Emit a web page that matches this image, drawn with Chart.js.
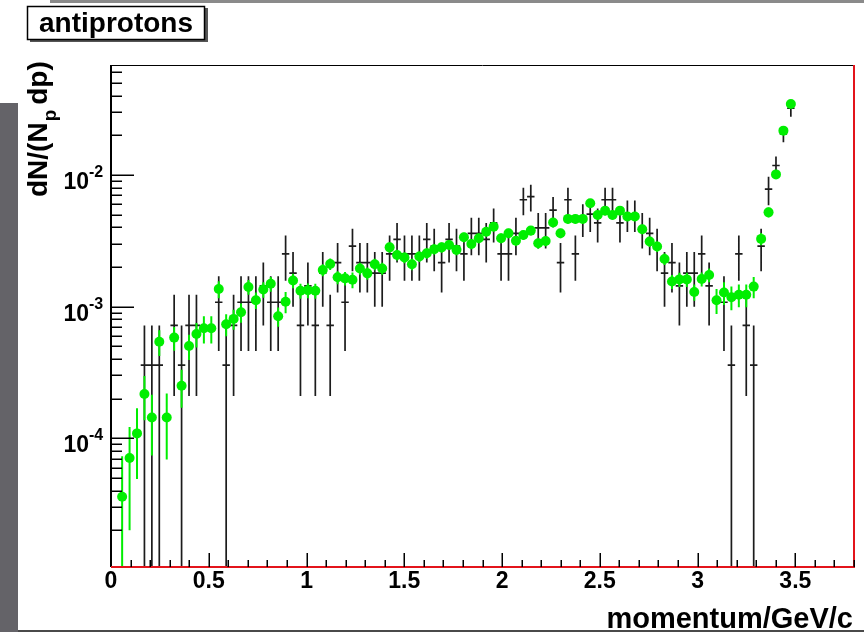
<!DOCTYPE html>
<html><head><meta charset="utf-8">
<script src="https://cdn.jsdelivr.net/npm/chart.js@4.4.0/dist/chart.umd.min.js"></script>
<style>html,body{margin:0;padding:0;background:#fff;overflow:hidden}canvas{display:block}</style>
</head><body>
<canvas id="c" width="864" height="632"></canvas>
<script>
// momentum bin centres (GeV/c), bin width 0.038
const momentum = [0.057,0.095,0.133,0.171,0.209,0.247,0.285,0.323,0.361,0.399,
0.437,0.475,0.513,0.551,0.589,0.627,0.665,0.703,0.741,0.779,
0.817,0.855,0.893,0.931,0.969,1.007,1.045,1.083,1.121,1.159,
1.197,1.235,1.273,1.311,1.349,1.387,1.425,1.463,1.501,1.539,
1.577,1.615,1.653,1.691,1.729,1.767,1.805,1.843,1.881,1.919,
1.957,1.995,2.033,2.071,2.109,2.147,2.185,2.223,2.261,2.299,
2.337,2.375,2.413,2.451,2.489,2.527,2.565,2.603,2.641,2.679,
2.717,2.755,2.793,2.831,2.869,2.907,2.945,2.983,3.021,3.059,
3.097,3.135,3.173,3.211,3.249,3.287,3.325,3.363,3.401,3.439,3.477];
const halfBin = 0.019;

// green series (markers)
const greenVal = [3.6e-5,7.1e-5,1.09e-4,2.17e-4,1.44e-4,5.42e-4,1.44e-4,5.82e-4,2.51e-4,5.03e-4,
6.2e-4,6.86e-4,6.86e-4,1.36e-3,7.35e-4,8.07e-4,9.06e-4,1.41e-3,1.12e-3,1.35e-3,
1.49e-3,8.45e-4,1.09e-3,1.58e-3,1.32e-3,1.33e-3,1.32e-3,1.90e-3,2.11e-3,1.67e-3,
1.64e-3,1.60e-3,1.95e-3,1.79e-3,2.10e-3,1.95e-3,2.82e-3,2.47e-3,2.36e-3,2.10e-3,
2.40e-3,2.54e-3,2.73e-3,2.82e-3,2.94e-3,2.70e-3,3.36e-3,2.99e-3,3.31e-3,3.71e-3,
4.05e-3,3.31e-3,3.61e-3,3.17e-3,3.50e-3,3.78e-3,3.03e-3,3.15e-3,4.35e-3,3.61e-3,
4.64e-3,4.64e-3,4.64e-3,6.10e-3,4.97e-3,5.36e-3,4.97e-3,5.36e-3,4.83e-3,4.83e-3,
3.87e-3,3.12e-3,2.86e-3,2.30e-3,1.55e-3,1.61e-3,1.61e-3,1.29e-3,1.62e-3,1.74e-3,
1.12e-3,1.28e-3,1.18e-3,1.23e-3,1.23e-3,1.42e-3,3.27e-3,5.20e-3,1.01e-2,2.17e-2,3.46e-2];
const greenErr = [3.7e-5,5.1e-5,6.0e-5,8.0e-5,7.0e-5,1.2e-4,7.5e-5,1.2e-4,8.0e-5,1.1e-4,
1.3e-4,1.6e-4,1.6e-4,2.0e-4,1.4e-4,1.4e-4,1.5e-4,1.8e-4,1.6e-4,1.8e-4,
1.9e-4,1.4e-4,2.0e-4,2.0e-4,1.7e-4,1.7e-4,1.7e-4,2.0e-4,2.1e-4,1.9e-4,
1.9e-4,2.2e-4,2.0e-4,1.9e-4,2.1e-4,2.0e-4,2.5e-4,2.3e-4,2.2e-4,2.1e-4,
2.2e-4,2.3e-4,2.4e-4,2.5e-4,2.5e-4,2.4e-4,2.8e-4,2.6e-4,2.8e-4,3.0e-4,
3.2e-4,2.8e-4,3.0e-4,2.7e-4,2.9e-4,3.1e-4,2.6e-4,2.7e-4,3.4e-4,3.0e-4,
3.6e-4,3.6e-4,3.6e-4,4.5e-4,3.8e-4,4.0e-4,3.8e-4,4.0e-4,3.7e-4,3.7e-4,
3.2e-4,2.8e-4,2.6e-4,2.3e-4,1.9e-4,2.0e-4,2.0e-4,1.8e-4,2.0e-4,2.1e-4,
2.4e-4,2.5e-4,2.4e-4,2.4e-4,2.4e-4,2.6e-4,3.5e-4,4.5e-4,7.0e-4,1.1e-3,1.6e-3];

// black series (crosses)
const blackVal = [null,null,null,3.6e-4,3.6e-4,3.6e-4,null,7.2e-4,3.6e-4,7.2e-4,
7.2e-4,null,null,1.08e-3,3.6e-4,7.2e-4,1.08e-3,1.08e-3,1.08e-3,1.44e-3,
1.08e-3,1.08e-3,2.52e-3,1.80e-3,7.2e-4,1.44e-3,7.2e-4,1.80e-3,7.2e-4,2.16e-3,
1.08e-3,2.88e-3,2.16e-3,2.16e-3,1.80e-3,1.80e-3,2.52e-3,3.24e-3,2.52e-3,2.52e-3,
2.52e-3,3.24e-3,2.88e-3,2.16e-3,3.24e-3,2.88e-3,2.52e-3,3.60e-3,3.60e-3,3.24e-3,
4.32e-3,2.52e-3,2.52e-3,3.60e-3,6.48e-3,6.84e-3,3.96e-3,3.96e-3,5.40e-3,2.16e-3,
6.48e-3,2.52e-3,4.68e-3,5.04e-3,4.32e-3,6.48e-3,6.48e-3,4.32e-3,5.04e-3,5.04e-3,
3.96e-3,3.60e-3,2.88e-3,1.80e-3,2.16e-3,1.44e-3,1.80e-3,1.80e-3,2.52e-3,1.44e-3,
null,1.08e-3,3.6e-4,2.52e-3,7.2e-4,3.6e-4,2.88e-3,7.80e-3,1.18e-2,2.05e-2,3.21e-2];
const blackErr = [0,0,0,3.6e-4,3.6e-4,3.6e-4,0,5.1e-4,3.6e-4,5.1e-4,
5.1e-4,0,0,6.2e-4,3.6e-4,5.1e-4,6.2e-4,6.2e-4,6.2e-4,7.2e-4,
6.2e-4,6.2e-4,9.5e-4,8.0e-4,5.1e-4,7.2e-4,5.1e-4,8.0e-4,5.1e-4,8.8e-4,
6.2e-4,1.02e-3,8.8e-4,8.8e-4,8.0e-4,8.0e-4,9.5e-4,1.08e-3,9.5e-4,9.5e-4,
9.5e-4,1.08e-3,1.02e-3,8.8e-4,1.08e-3,1.02e-3,9.5e-4,1.14e-3,1.14e-3,1.08e-3,
1.25e-3,9.5e-4,9.5e-4,1.14e-3,1.53e-3,1.57e-3,1.19e-3,1.19e-3,1.39e-3,8.8e-4,
1.53e-3,9.5e-4,1.30e-3,1.35e-3,1.25e-3,1.53e-3,1.53e-3,1.25e-3,1.35e-3,1.35e-3,
1.19e-3,1.14e-3,1.02e-3,8.0e-4,8.8e-4,7.2e-4,8.0e-4,8.0e-4,9.5e-4,7.2e-4,
0,6.2e-4,3.6e-4,9.5e-4,5.1e-4,3.6e-4,1.02e-3,1.9e-3,2.0e-3,2.8e-3,4.4e-3];

// axes
const xMin = 0, xMax = 3.8, xStep = 0.5;
const yMin = 1.054e-5, yMax = 6.84e-2;
const yMajorTicks = [1e-4, 1e-3, 1e-2];
const yTickExponents = ['-4', '-3', '-2'];
const xTitle = 'momentum/GeV/c';
const yTitleParts = ['dN/(N', 'p', 'dp)'];
const boxTitle = 'antiprotons';

const FONT = '"Liberation Sans", Arial, Helvetica, sans-serif';

function errorSegments(xs, vals, errs) {
  const pts = [];
  for (let i = 0; i < xs.length; i++) {
    if (vals[i] == null) continue;
    const lo = vals[i] - errs[i];
    pts.push({x: xs[i], y: lo > yMin ? lo : yMin});
    pts.push({x: xs[i], y: vals[i] + errs[i]});
    pts.push({x: xs[i], y: null});
  }
  return pts;
}
function binSegments(xs, vals) {
  const pts = [];
  for (let i = 0; i < xs.length; i++) {
    if (vals[i] == null) continue;
    pts.push({x: xs[i] - halfBin, y: vals[i]});
    pts.push({x: xs[i] + halfBin, y: vals[i]});
    pts.push({x: xs[i], y: null});
  }
  return pts;
}
const greenPoints = momentum.map((m, i) => ({x: m, y: greenVal[i]})).filter(p => p.y != null);

const GREEN = '#00ee00';
const BLACK = '#1c1c1c';

const decor = {
  id: 'decor',
  beforeDraw(chart) {
    const ctx = chart.ctx;
    ctx.save();
    ctx.fillStyle = '#ffffff';
    ctx.fillRect(0, 0, chart.width, chart.height);
    ctx.fillStyle = '#646368';
    ctx.fillRect(0, 103, 18, 529);
    ctx.fillStyle = '#8a8a8a';
    ctx.fillRect(50, 0, 814, 3);
    ctx.fillStyle = '#4a4a4a';
    ctx.fillRect(18, 630, 846, 2);
    ctx.restore();
  },
  afterDraw(chart) {
    const ctx = chart.ctx, a = chart.chartArea;
    const xs = chart.scales.x, ys = chart.scales.y;
    ctx.save();
    // frame
    ctx.strokeStyle = '#000';
    ctx.lineWidth = 1;
    ctx.beginPath(); ctx.moveTo(a.left, a.top + 0.5); ctx.lineTo(a.right, a.top + 0.5); ctx.stroke();
    ctx.lineWidth = 2;
    ctx.beginPath(); ctx.moveTo(a.left, a.top); ctx.lineTo(a.left, a.bottom); ctx.stroke();
    ctx.strokeStyle = '#e3141b';
    ctx.beginPath(); ctx.moveTo(a.left, a.bottom); ctx.lineTo(a.right, a.bottom); ctx.lineTo(a.right, a.top); ctx.stroke();
    // y ticks
    ctx.strokeStyle = '#000';
    ctx.lineWidth = 1.5;
    for (let e = -5; e <= -1; e++) {
      for (let m = 1; m <= 9; m++) {
        const v = m * Math.pow(10, e);
        if (v < yMin || v > yMax) continue;
        const py = Math.round(ys.getPixelForValue(v)) + 0.25;
        const len = m === 1 ? 23 : 11;
        ctx.beginPath(); ctx.moveTo(a.left, py); ctx.lineTo(a.left + len, py); ctx.stroke();
      }
    }
    // x ticks
    for (let k = 1; k <= 38; k++) {
      const v = k / 10;
      const px = Math.round(xs.getPixelForValue(v)) + 0.25;
      const len = k % 5 === 0 ? 14 : 7;
      ctx.beginPath(); ctx.moveTo(px, a.bottom); ctx.lineTo(px, a.bottom - len); ctx.stroke();
    }
    // y tick labels 10^n
    ctx.fillStyle = '#000';
    ctx.textBaseline = 'alphabetic';
    yMajorTicks.forEach((v, i) => {
      const py = ys.getPixelForValue(v);
      ctx.font = 'bold 23px ' + FONT;
      ctx.textAlign = 'right';
      ctx.fillText('10', 89, py + 14);
      ctx.font = 'bold 16px ' + FONT;
      ctx.textAlign = 'left';
      ctx.fillText(yTickExponents[i], 89, py + 2);
    });
    // x title
    ctx.font = 'bold 29px ' + FONT;
    ctx.textAlign = 'right';
    ctx.fillText(xTitle, 853, 628);
    // y title (rotated)
    ctx.save();
    ctx.translate(47, 197);
    ctx.rotate(-Math.PI / 2);
    ctx.textAlign = 'left';
    ctx.font = 'bold 28px ' + FONT;
    ctx.fillText(yTitleParts[0], 0, 0);
    let w = ctx.measureText(yTitleParts[0]).width;
    ctx.font = 'bold 19px ' + FONT;
    ctx.fillText(yTitleParts[1], w + 1, 9);
    w += 1 + ctx.measureText(yTitleParts[1]).width + 5;
    ctx.font = 'bold 28px ' + FONT;
    ctx.fillText(yTitleParts[2], w, 0);
    ctx.restore();
    // title box
    ctx.fillStyle = '#555555';
    ctx.fillRect(30, 8, 178, 34);
    ctx.fillStyle = '#fff';
    ctx.fillRect(27, 6, 178, 34);
    ctx.strokeStyle = '#000'; ctx.lineWidth = 1.5;
    ctx.strokeRect(27.5, 6.5, 177, 33);
    ctx.fillStyle = '#000';
    ctx.font = 'bold 28px ' + FONT;
    ctx.textAlign = 'left';
    ctx.fillText(boxTitle, 39, 32, 156);
    ctx.restore();
  }
};

new Chart(document.getElementById('c'), {
  type: 'scatter',
  data: {
    datasets: [
      {label: 'black err', data: errorSegments(momentum, blackVal, blackErr), showLine: true, spanGaps: false,
       borderColor: BLACK, borderWidth: 1.7, pointRadius: 0, order: 1},
      {label: 'black bin', data: binSegments(momentum, blackVal), showLine: true, spanGaps: false,
       borderColor: BLACK, borderWidth: 1.7, pointRadius: 0, order: 2},
      {label: 'green', data: greenPoints, showLine: false, pointRadius: 5, pointBorderWidth: 0,
       pointBackgroundColor: GREEN, pointBorderColor: GREEN, order: 0},
      {label: 'green err', data: errorSegments(momentum, greenVal, greenErr), showLine: true, spanGaps: false,
       borderColor: GREEN, borderWidth: 2, pointRadius: 0, order: 0.5}
    ]
  },
  options: {
    responsive: false, animation: false, devicePixelRatio: 1,
    layout: {padding: {left: 0, right: 10, top: 65, bottom: 0}},
    plugins: {legend: {display: false}, tooltip: {enabled: false}, title: {display: false}},
    scales: {
      x: {type: 'linear', min: xMin, max: xMax,
          grid: {display: false, drawTicks: false}, border: {display: false},
          ticks: {stepSize: xStep, includeBounds: false, padding: 1, color: '#000', maxRotation: 0, autoSkip: false,
                  font: {family: FONT, weight: 'bold', size: 23},
                  callback: (v) => String(Math.round(v * 10) / 10)},
          afterFit(s) { s.height = 65; }},
      y: {type: 'logarithmic', min: yMin, max: yMax,
          grid: {display: false, drawTicks: false}, border: {display: false},
          ticks: {display: false},
          afterFit(s) { s.width = 111; }}
    }
  },
  plugins: [decor]
});
</script>
</body></html>
